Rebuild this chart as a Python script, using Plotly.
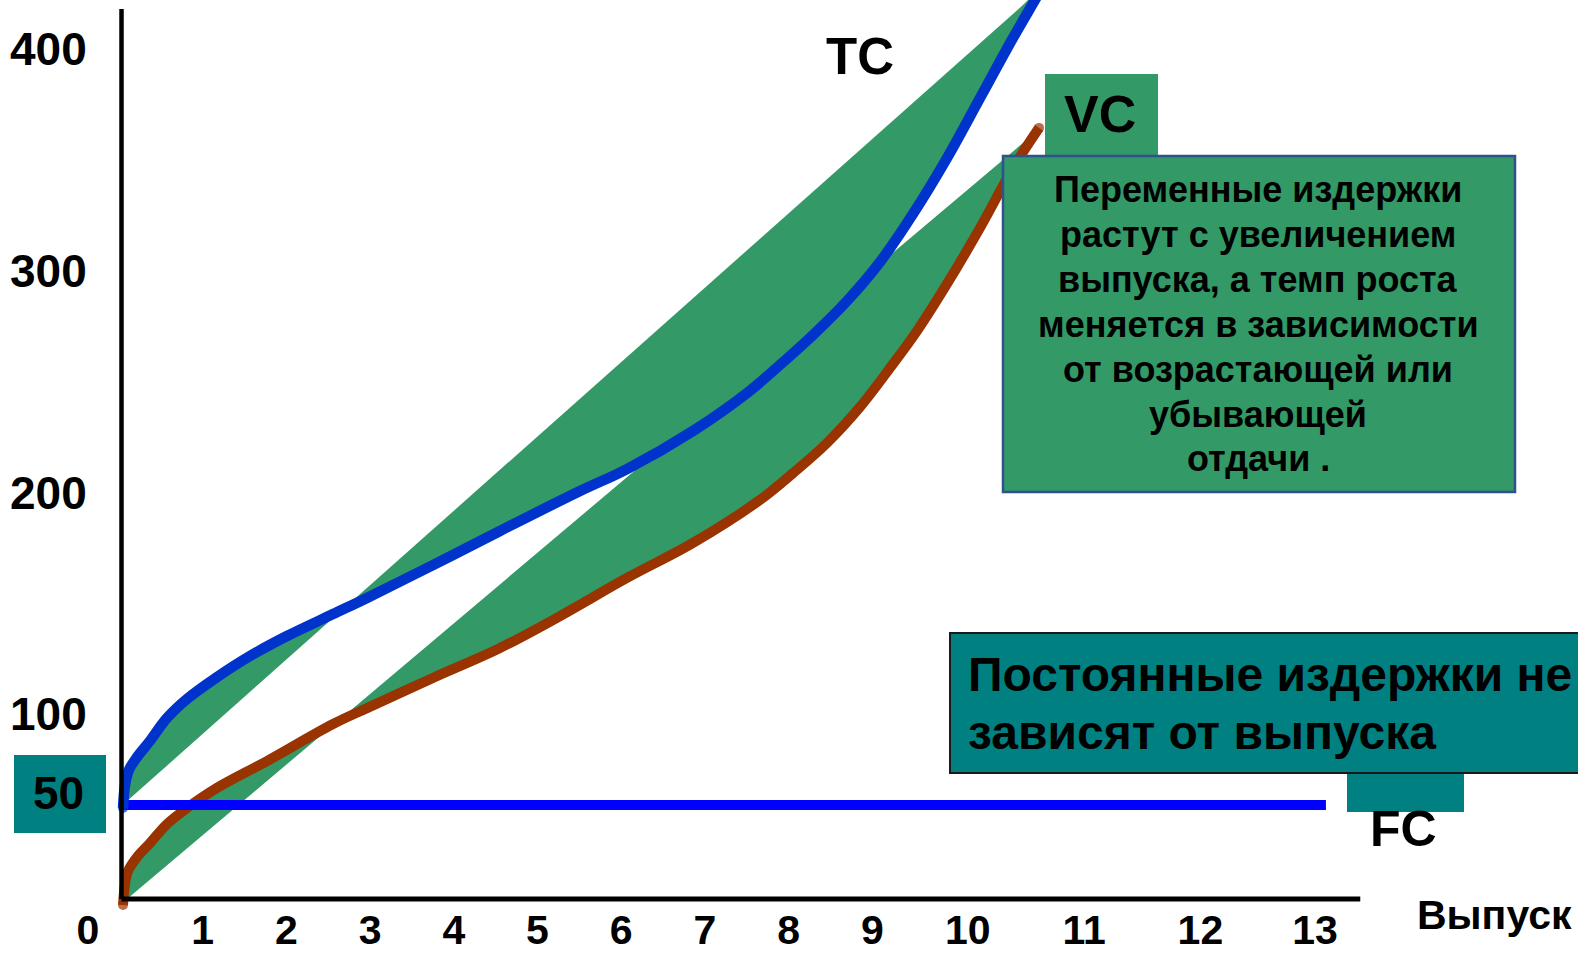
import plotly.graph_objects as go

W, H = 1578, 953

# ---------------- data (axis units) ----------------
tc_x = [0.048, 0.072, 0.119, 0.215, 0.370, 0.573, 0.812, 1.171, 1.565, 2.007, 2.557,
        2.963, 3.751, 4.552, 5.508, 6.069, 6.858, 7.503, 7.897, 8.292, 8.698, 9.092,
        9.486, 9.892, 10.287, 10.681, 10.944, 11.063]
tc_y = [57.7, 68.1, 74.9, 80.7, 88.0, 98.3, 106.9, 116.8, 126.3, 135.3, 145.2,
        152.5, 167.3, 182.7, 200.7, 210.6, 227.8, 244.9, 257.6, 271.1, 286.4, 304.0,
        325.7, 350.9, 378.0, 405.1, 422.2, 429.9]

vc_x = [0.048, 0.072, 0.108, 0.215, 0.370, 0.573, 0.812, 1.171, 1.768, 2.557, 2.963,
        3.751, 4.552, 5.269, 6.069, 6.858, 7.658, 8.053, 8.459, 8.853, 9.247, 9.534,
        9.892, 10.287, 10.681, 10.992]
vc_y = [14.0, 23.5, 29.3, 35.6, 41.9, 50.5, 57.7, 66.8, 78.9, 95.6, 102.8,
        116.4, 129.9, 144.3, 161.5, 177.3, 196.7, 208.8, 222.4, 238.6, 258.0, 272.9,
        294.1, 319.4, 346.4, 364.5]

fc_x = [0.0, 14.42]
fc_y = [59.1, 59.1]

# straight edges of the shaded (green) bands
tc_band_edge_x = [0.11, 10.80]
tc_band_edge_y = [61.3, 419.9]
vc_band_edge_x = [0.11, 10.80]
vc_band_edge_y = [17.1, 357.7]

y_tick_vals = [100, 200, 300, 400]
y_tick_text = ["100", "200", "300", "400"]
x_tick_text = ["0", "1", "2", "3", "4", "5", "6", "7", "8", "9", "10", "11", "12", "13"]
x_tick_pos = [-0.37, 1, 2, 3, 4, 5, 6, 7, 8, 9, 10.14, 11.53, 12.92, 14.29]

vc_note_lines = ["Переменные издержки", "растут с увеличением", "выпуска, а темп роста",
                 "меняется в зависимости", "от возрастающей или", "убывающей", "отдачи ."]
fc_note_lines = ["Постоянные издержки не", "зависят от выпуска"]

# ---------------- styles ----------------
FONT = "Liberation Sans, Arial, sans-serif"
GREEN = "#339966"
TEAL = "#008080"
TC_COL = "#0033CC"
VC_COL = "#993300"
FC_COL = "#0000FF"

X_RANGE = [-119 / 83.7, (W - 119) / 83.7]
Y_RANGE = [(936 - H) / 2.217, 936 / 2.217]


def px(x):
    return x / W


def py(y):
    return 1 - y / H


fig = go.Figure()

# shaded bands
fig.add_trace(go.Scatter(x=tc_band_edge_x + tc_x[::-1], y=tc_band_edge_y + tc_y[::-1],
                         mode="lines", fill="toself", fillcolor=GREEN,
                         line=dict(width=0, color=GREEN), hoverinfo="skip", showlegend=False))
fig.add_trace(go.Scatter(x=vc_band_edge_x + vc_x[::-1], y=vc_band_edge_y + vc_y[::-1],
                         mode="lines", fill="toself", fillcolor=GREEN,
                         line=dict(width=0, color=GREEN), hoverinfo="skip", showlegend=False))

# VC curve
vc_sizes = [10] + [0] * (len(vc_x) - 2) + [10]
fig.add_trace(go.Scatter(x=vc_x, y=vc_y, mode="lines+markers", name="VC",
                         line=dict(color=VC_COL, width=10, shape="spline", smoothing=1.0),
                         marker=dict(size=vc_sizes, color=VC_COL, line=dict(width=0)),
                         showlegend=False))
# FC line
fig.add_trace(go.Scatter(x=fc_x, y=fc_y, mode="lines", name="FC",
                         line=dict(color=FC_COL, width=10), showlegend=False))
# TC curve
tc_sizes = [10] + [0] * (len(tc_x) - 1)
fig.add_trace(go.Scatter(x=tc_x, y=tc_y, mode="lines+markers", name="TC",
                         line=dict(color=TC_COL, width=10.5, shape="spline", smoothing=1.0),
                         marker=dict(size=tc_sizes, color=TC_COL, line=dict(width=0)),
                         showlegend=False))

shapes = [
    # axis lines
    dict(type="line", xref="x", yref="y", x0=0.03, x1=0.03, y0=16.7, y1=418.1,
         line=dict(color="black", width=4.5), layer="above"),
    dict(type="line", xref="x", yref="y", x0=0.03, x1=14.83, y0=16.7, y1=16.7,
         line=dict(color="black", width=5), layer="above"),
    # "50" box
    dict(type="rect", xref="paper", yref="paper", x0=px(14), x1=px(106), y0=py(833), y1=py(755),
         fillcolor=TEAL, line=dict(width=0), layer="above"),
    # VC label box
    dict(type="rect", xref="paper", yref="paper", x0=px(1045), x1=px(1158), y0=py(157), y1=py(74),
         fillcolor=GREEN, line=dict(width=0), layer="above"),
    # VC note box
    dict(type="rect", xref="paper", yref="paper", x0=px(1003), x1=px(1515), y0=py(492), y1=py(156),
         fillcolor=GREEN, line=dict(width=2.5, color="#2F528F"), layer="above"),
    # FC label box
    dict(type="rect", xref="paper", yref="paper", x0=px(1347), x1=px(1464), y0=py(812), y1=py(772),
         fillcolor=TEAL, line=dict(width=0), layer="above"),
    # FC note box
    dict(type="rect", xref="paper", yref="paper", x0=px(950), x1=px(1600), y0=py(773), y1=py(633),
         fillcolor=TEAL, line=dict(width=2, color="#1a1a1a"), layer="above"),
]


def txt(text, x, y, size, xanchor="center", align="center"):
    return dict(text=text, xref="paper", yref="paper", x=px(x), y=py(y),
                xanchor=xanchor, yanchor="middle", align=align, showarrow=False,
                font=dict(family=FONT, size=size, color="black", weight="bold"))


annotations = [
    txt("50", 58, 793, 46),
    txt("TC", 860, 56, 51),
    txt("VC", 1100, 114, 52),
    txt("FC", 1403, 829, 50),
    txt("Выпуск", 1415, 915, 41, xanchor="left", align="left"),
]
for i, line in enumerate(vc_note_lines):
    annotations.append(txt(line, 1258, 190 + 44.8 * i, 36))
for i, line in enumerate(fc_note_lines):
    annotations.append(txt(line, 966, 674 + 58 * i, 48, xanchor="left", align="left"))

fig.update_layout(
    width=W, height=H,
    margin=dict(l=0, r=0, t=0, b=0, autoexpand=False),
    paper_bgcolor="white", plot_bgcolor="white",
    showlegend=False,
    shapes=shapes,
    annotations=annotations,
    xaxis=dict(range=X_RANGE, showgrid=False, zeroline=False, showline=False,
               automargin=False,
               tickmode="array", tickvals=x_tick_pos, ticktext=x_tick_text,
               ticks="", ticklabelposition="inside", ticklabelstandoff=-2,
               tickfont=dict(family=FONT, size=41, color="black", weight="bold")),
    yaxis=dict(range=Y_RANGE, showgrid=False, zeroline=False, showline=False,
               automargin=False,
               tickmode="array", tickvals=y_tick_vals, ticktext=y_tick_text,
               ticks="", ticklabelposition="inside", ticklabelstandoff=7,
               tickfont=dict(family=FONT, size=46, color="black", weight="bold")),
)

fig.write_html("out.html", config={"displayModeBar": False},
               post_script="document.body.style.margin='0';document.body.style.overflow='hidden';")
